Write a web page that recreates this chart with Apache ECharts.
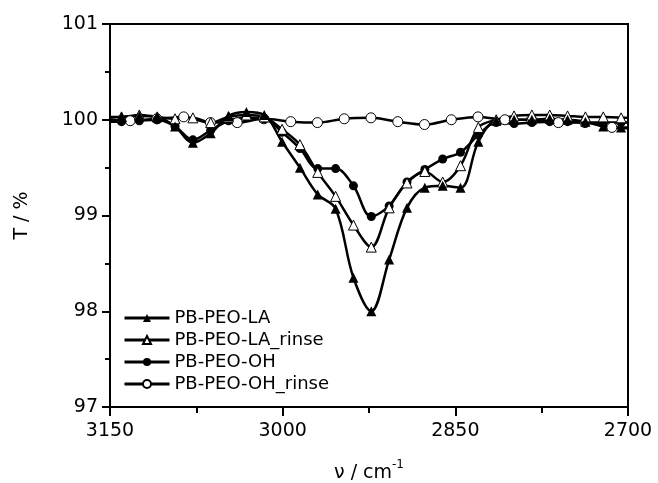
<!DOCTYPE html>
<html>
<head>
<meta charset="utf-8">
<script src="https://cdn.jsdelivr.net/npm/echarts@6/dist/echarts.min.js"></script>
<style>html,body{margin:0;padding:0;background:#fff;}#c{width:658px;height:483px;}</style>
</head>
<body>
<div id="c"></div>
<script>
var seriesNames = ['PB-PEO-LA', 'PB-PEO-LA_rinse', 'PB-PEO-OH', 'PB-PEO-OH_rinse'];
var xTicks = [3150, 3000, 2850, 2700];
var yTicks = [97, 98, 99, 100, 101];

var xDense = [3140, 3124.5, 3109, 3093.5, 3078, 3062.5, 3047, 3031.5, 3016, 3000.5, 2985, 2969.5, 2954, 2938.5, 2923, 2907.5, 2892, 2876.5, 2861, 2845.5, 2830, 2814.5, 2799, 2783.5, 2768, 2752.5, 2737, 2721.5, 2706];
var yLA = [100.03, 100.04, 100.03, 99.93, 99.76, 99.86, 100.04, 100.08, 100.05, 99.77, 99.50, 99.22, 99.07, 98.35, 98.00, 98.54, 99.08, 99.29, 99.31, 99.29, 99.77, 99.99, 100.00, 100.00, 100.01, 100.00, 99.98, 99.93, 99.92];
var yLArinse = [100.03, 100.05, 100.03, 100.01, 100.02, 99.97, 100.03, 100.05, 100.03, 99.90, 99.74, 99.45, 99.20, 98.90, 98.67, 99.08, 99.34, 99.46, 99.35, 99.52, 99.92, 100.00, 100.04, 100.05, 100.05, 100.04, 100.03, 100.03, 100.02];
var yOH = [99.98, 99.99, 100.00, 99.93, 99.79, 99.89, 99.99, 100.02, 100.01, 99.87, 99.70, 99.49, 99.49, 99.31, 98.99, 99.10, 99.35, 99.48, 99.59, 99.66, 99.84, 99.97, 99.96, 99.97, 99.98, 99.98, 99.97, 99.97, 99.97];

var xSparse = [3132.5, 3109.3, 3086, 3062.8, 3039.5, 3016.3, 2993, 2969.8, 2946.5, 2923.3, 2900, 2876.8, 2853.5, 2830.3, 2807, 2783.8, 2760.5, 2737.3, 2714];
var yOHrinse = [99.99, 100.01, 100.03, 99.97, 99.97, 100.01, 99.98, 99.97, 100.01, 100.02, 99.98, 99.95, 100.00, 100.03, 100.00, 100.00, 99.97, 99.97, 99.92];

// values where each trace meets the left (3150) and right (2700) frame
var edgeX = [3150, 2700];
var edgeLA = [100.02, 99.92];
var edgeLArinse = [100.03, 100.02];
var edgeOH = [99.98, 99.97];
var edgeOHrinse = [100.00, 99.91];

function build(xs, ys, edge) {
  var d = [{value: [edgeX[0], edge[0]], symbol: 'none'}];
  for (var i = 0; i < xs.length; i++) d.push([xs[i], ys[i]]);
  d.push({value: [edgeX[1], edge[1]], symbol: 'none'});
  return d;
}

var FONT = 'DejaVu Sans';
var chart = echarts.init(document.getElementById('c'), null, {renderer: 'canvas'});

function mk(name, data, symbol, size, fill) {
  return {
    name: name, type: 'line', data: data, smooth: 0.35,
    symbol: symbol, symbolSize: size, showSymbol: true,
    color: '#000',
    lineStyle: {color: '#000', width: 2.5},
    itemStyle: {color: fill, borderColor: '#000', borderWidth: fill === '#fff' ? 1 : 0},
    clip: true, animation: false
  };
}

chart.setOption({
  backgroundColor: '#fff',
  animation: false,
  grid: {left: 110, right: 30, top: 24, bottom: 76, containLabel: false, outerBoundsMode: 'none',
    show: true, borderColor: '#000', borderWidth: 2, backgroundColor: 'transparent'},
  legend: {
    orient: 'vertical', left: 118, top: 304,
    itemWidth: 45, itemHeight: 10, itemGap: 4,
    lineStyle: {width: 3, color: '#000'},
    textStyle: {fontFamily: FONT, fontSize: 18, color: '#000'},
    data: seriesNames
  },
  xAxis: {
    type: 'value', inverse: true, min: 2700, max: 3150, interval: 150,
    name: '{a|ν / cm}{b|-1}', nameLocation: 'middle', nameGap: 52,
    nameTextStyle: {rich: {
      a: {fontFamily: FONT, fontSize: 19, color: '#000', lineHeight: 24, verticalAlign: 'bottom'},
      b: {fontFamily: FONT, fontSize: 12, color: '#000', lineHeight: 24, verticalAlign: 'top'}
    }},
    axisLine: {lineStyle: {color: '#000', width: 2}},
    axisTick: {show: true, inside: false, length: 9, lineStyle: {color: '#000', width: 2}},
    minorTick: {show: true, splitNumber: 2, length: 6, lineStyle: {color: '#000', width: 2}},
    splitLine: {show: false},
    axisLabel: {fontFamily: FONT, fontSize: 19, color: '#000', margin: 15,
      formatter: function (v) { return xTicks.indexOf(v) >= 0 ? String(v) : ''; }}
  },
  yAxis: {
    type: 'value', min: 97, max: 101, interval: 1,
    name: 'T / %', nameLocation: 'middle', nameGap: 78,
    nameTextStyle: {fontFamily: FONT, fontSize: 19, color: '#000'},
    axisLine: {lineStyle: {color: '#000', width: 2}},
    axisTick: {show: true, inside: false, length: 8, lineStyle: {color: '#000', width: 2}},
    minorTick: {show: true, splitNumber: 2, length: 5, lineStyle: {color: '#000', width: 2}},
    splitLine: {show: false},
    axisLabel: {fontFamily: FONT, fontSize: 19, color: '#000', margin: 12,
      formatter: function (v) { return yTicks.indexOf(v) >= 0 ? String(v) : ''; }}
  },
  series: [
    mk(seriesNames[3], build(xSparse, yOHrinse, edgeOHrinse), 'circle', 10, '#fff'),
    mk(seriesNames[2], build(xDense, yOH, edgeOH), 'circle', 9, '#000'),
    mk(seriesNames[1], build(xDense, yLArinse, edgeLArinse), 'triangle', 10, '#fff'),
    mk(seriesNames[0], build(xDense, yLA, edgeLA), 'triangle', 10, '#000')
  ]
});
</script>
</body>
</html>
